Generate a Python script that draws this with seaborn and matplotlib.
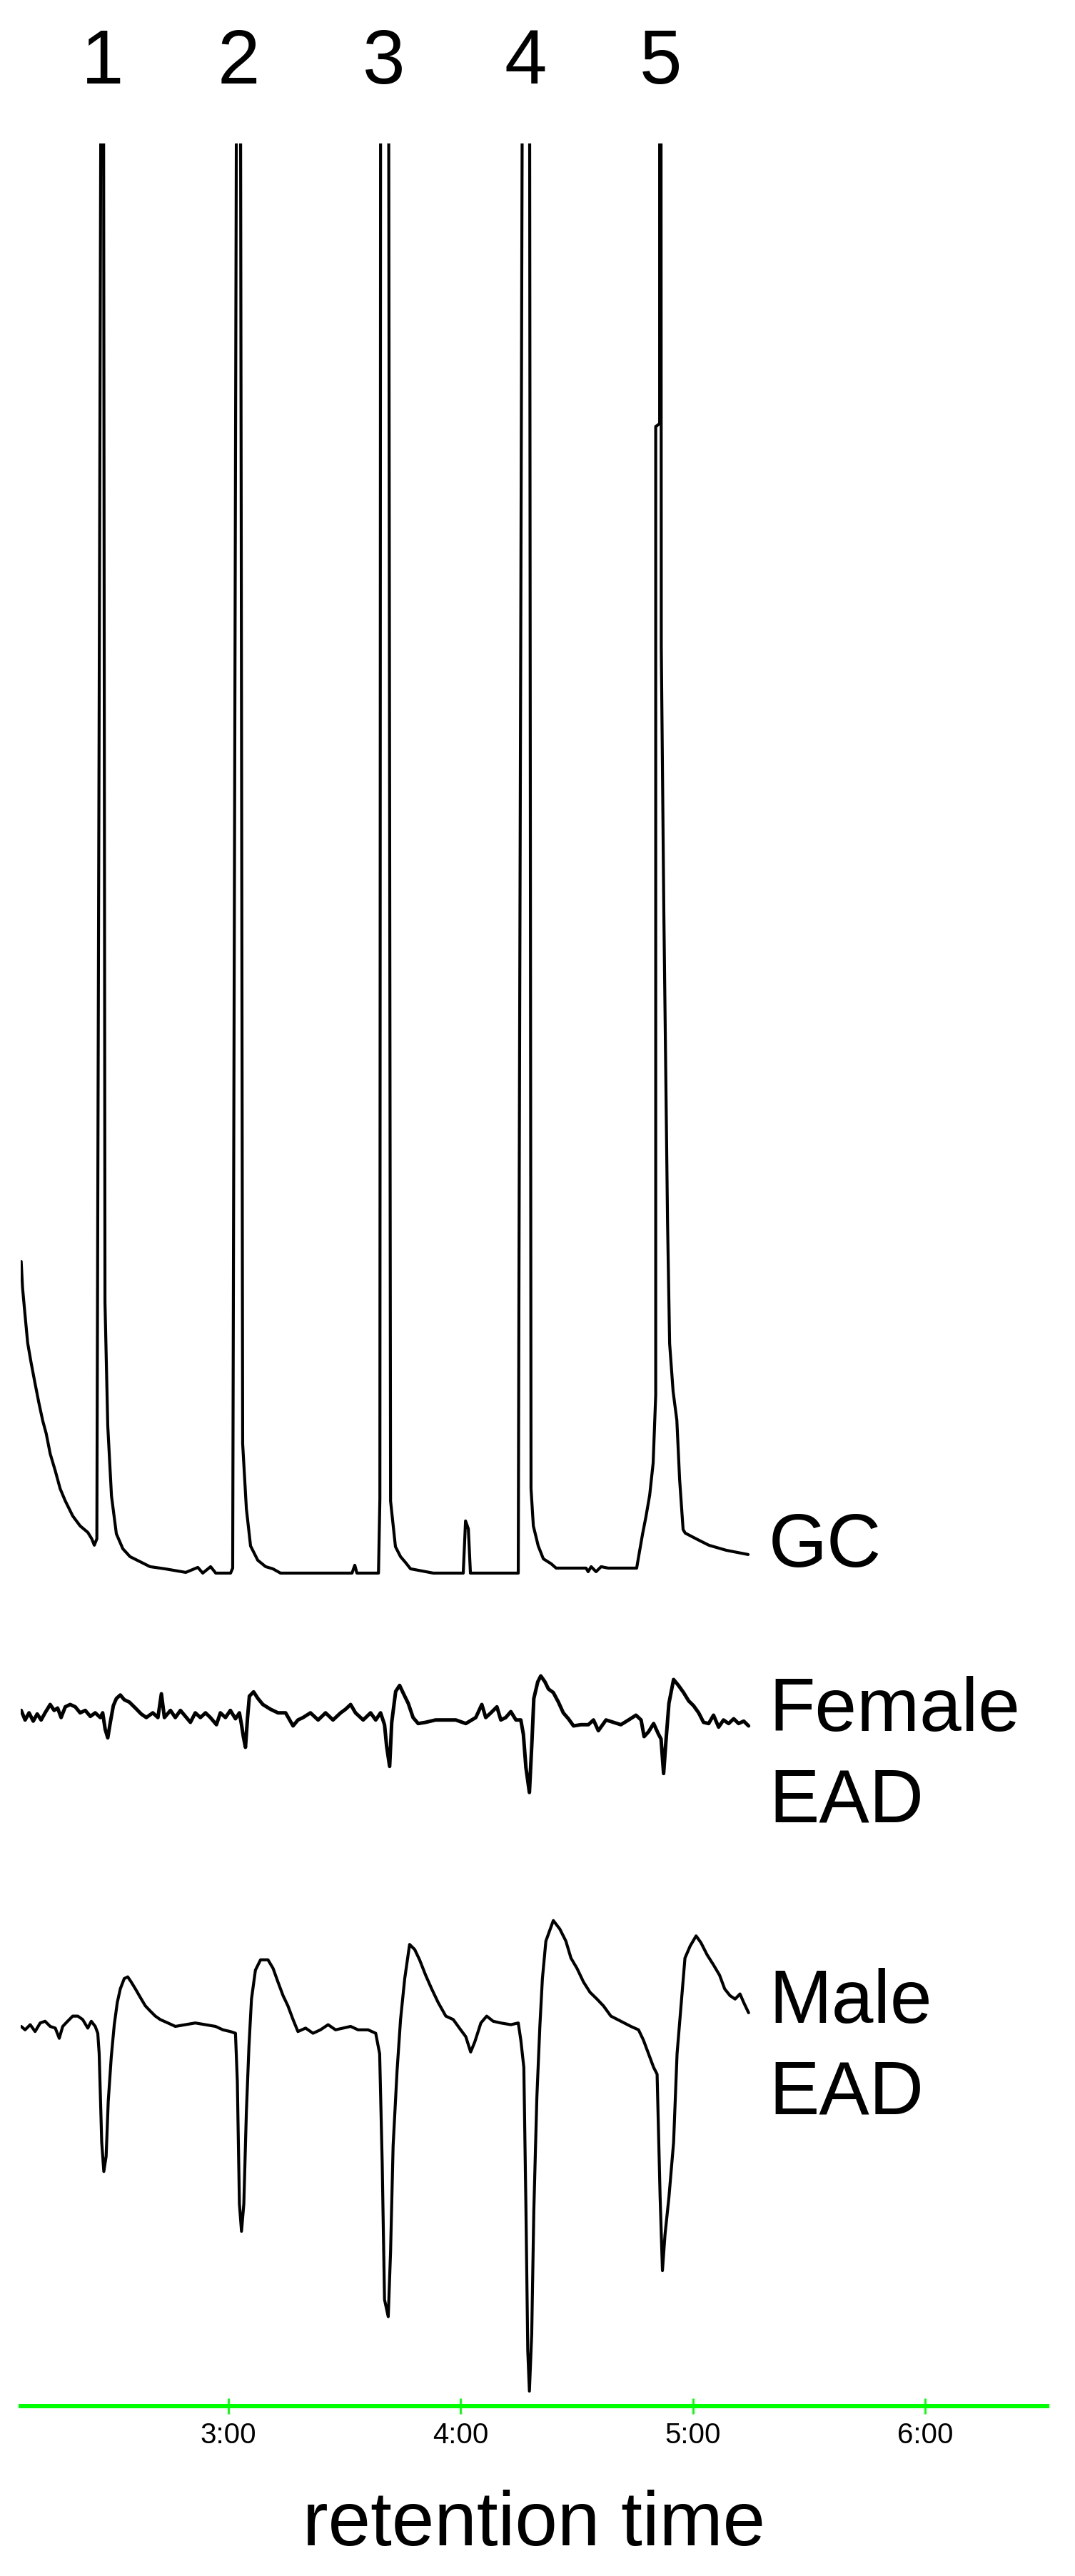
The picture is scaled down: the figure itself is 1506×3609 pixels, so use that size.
import numpy as np
import pandas as pd
import seaborn as sns
import matplotlib.pyplot as plt

# GC-EAD run: retention time (min), GC response in % of full scale
# (the five main peaks run off scale, their tops are clipped)
gc_time = [2.107, 2.113, 2.124, 2.135, 2.150, 2.167, 2.184, 2.200, 2.215, 2.232,
           2.254, 2.275, 2.297, 2.329, 2.361, 2.394, 2.411, 2.422, 2.433, 2.450,
           2.462, 2.468, 2.480, 2.496, 2.517, 2.545, 2.576, 2.619, 2.662, 2.726,
           2.816, 2.868, 2.889, 2.923, 2.945, 3.009, 3.018, 3.034, 3.052, 3.061,
           3.077, 3.095, 3.126, 3.160, 3.191, 3.224, 3.532, 3.544, 3.553, 3.646,
           3.652, 3.655, 3.690, 3.698, 3.719, 3.741, 3.762, 3.784, 3.882, 4.011,
           4.021, 4.033, 4.042, 4.248, 4.251, 4.265, 4.297, 4.303, 4.313, 4.334,
           4.356, 4.390, 4.411, 4.540, 4.549, 4.562, 4.583, 4.605, 4.635, 4.758,
           4.768, 4.783, 4.798, 4.814, 4.829, 4.840, 4.840, 4.857, 4.857, 4.863,
           4.864, 4.875, 4.891, 4.900, 4.915, 4.931, 4.943, 4.958, 4.967, 5.020,
           5.069, 5.143, 5.238]
gc_resp = [21.8, 19.95, 18.0, 16.1, 14.7, 13.25, 11.85, 10.65, 9.75, 8.35,
           7.15, 5.9, 5.05, 4.0, 3.3, 2.85, 2.4, 1.95, 2.4, 102,
           102, 18.95, 10.3, 5.4, 2.75, 1.7, 1.15, 0.8, 0.45, 0.3,
           0.05, 0.4, 0.0, 0.45, 0.0, 0.0, 0.35, 102, 102, 9.05,
           4.5, 1.9, 0.9, 0.45, 0.3, 0.0, 0.0, 0.55, 0.0, 0.0,
           5.2, 102, 102, 5.05, 1.85, 1.15, 0.75, 0.3, 0.0, 0.0,
           3.65, 3.1, 0.0, 0.0, 20.65, 102, 102, 5.9, 3.3, 1.9,
           1.0, 0.65, 0.35, 0.35, 0.1, 0.45, 0.1, 0.45, 0.35, 0.35,
           1.3, 2.7, 3.95, 5.45, 7.7, 12.45, 80.2, 80.4, 102, 102,
           64.8, 46.25, 24.55, 16.05, 12.7, 10.7, 6.55, 3.05, 2.8, 2.35,
           1.95, 1.6, 1.3]

# female antenna (EAD), relative response
female_time = [2.107, 2.124, 2.141, 2.159, 2.176, 2.193, 2.210, 2.232, 2.249, 2.264,
               2.279, 2.297, 2.318, 2.340, 2.361, 2.383, 2.405, 2.426, 2.448, 2.458,
               2.469, 2.480, 2.491, 2.504, 2.517, 2.534, 2.551, 2.573, 2.599, 2.624,
               2.646, 2.674, 2.696, 2.711, 2.724, 2.750, 2.771, 2.793, 2.819, 2.836,
               2.857, 2.879, 2.901, 2.922, 2.948, 2.965, 2.987, 3.008, 3.030, 3.047,
               3.056, 3.064, 3.073, 3.082, 3.090, 3.108, 3.127, 3.148, 3.181, 3.213,
               3.246, 3.278, 3.299, 3.321, 3.353, 3.386, 3.418, 3.450, 3.483, 3.504,
               3.526, 3.547, 3.580, 3.612, 3.634, 3.655, 3.672, 3.681, 3.694, 3.703,
               3.720, 3.737, 3.754, 3.774, 3.795, 3.817, 3.849, 3.892, 3.936, 3.979,
               4.022, 4.065, 4.091, 4.108, 4.130, 4.156, 4.173, 4.194, 4.216, 4.238,
               4.259, 4.270, 4.281, 4.296, 4.307, 4.315, 4.332, 4.345, 4.363, 4.378,
               4.399, 4.421, 4.442, 4.464, 4.486, 4.518, 4.550, 4.572, 4.593, 4.626,
               4.658, 4.690, 4.723, 4.755, 4.777, 4.790, 4.809, 4.831, 4.852, 4.863,
               4.874, 4.884, 4.897, 4.917, 4.938, 4.960, 4.982, 5.003, 5.025, 5.046,
               5.068, 5.089, 5.111, 5.132, 5.154, 5.176, 5.197, 5.219, 5.240]
female_resp = [0.067, -0.067, 0.033, -0.083, 0.017, -0.067, 0.033, 0.15, 0.067, 0.1,
               -0.033, 0.117, 0.15, 0.117, 0.033, 0.067, -0.017, 0.033, -0.033, 0.033,
               -0.2, -0.317, -0.1, 0.133, 0.233, 0.283, 0.217, 0.183, 0.1, 0.017,
               -0.033, 0.033, -0.033, 0.3, -0.033, 0.067, -0.033, 0.067, -0.033, -0.1,
               0.033, -0.033, 0.033, -0.033, -0.133, 0.033, -0.033, 0.067, -0.05, 0.033,
               -0.133, -0.3, -0.45, -0.033, 0.267, 0.327, 0.233, 0.15, 0.083, 0.033,
               0.033, -0.15, -0.067, -0.033, 0.033, -0.067, 0.033, -0.067, 0.033, 0.083,
               0.15, 0.033, -0.067, 0.033, -0.067, 0.033, -0.133, -0.433, -0.717, -0.1,
               0.333, 0.417, 0.3, 0.167, -0.033, -0.117, -0.1, -0.067, -0.067, -0.067,
               -0.117, -0.033, 0.15, -0.033, 0.033, 0.117, -0.067, -0.033, 0.05, -0.067,
               -0.067, -0.267, -0.733, -1.083, -0.367, 0.233, 0.467, 0.55, 0.467, 0.367,
               0.317, 0.183, 0.033, -0.05, -0.15, -0.133, -0.133, -0.067, -0.217, -0.067,
               -0.1, -0.133, -0.067, 0.0, -0.067, -0.3, -0.233, -0.117, -0.267, -0.333,
               -0.817, -0.367, 0.167, 0.5, 0.417, 0.317, 0.2, 0.133, 0.033, -0.1,
               -0.117, 0.0, -0.167, -0.067, -0.117, -0.05, -0.117, -0.083, -0.15]

# male antenna (EAD), relative response
male_time = [2.107, 2.124, 2.146, 2.167, 2.189, 2.210, 2.232, 2.254, 2.271, 2.286,
             2.307, 2.329, 2.351, 2.372, 2.394, 2.409, 2.426, 2.437, 2.443, 2.454,
             2.463, 2.473, 2.482, 2.495, 2.508, 2.521, 2.534, 2.551, 2.566, 2.581,
             2.599, 2.620, 2.642, 2.663, 2.685, 2.706, 2.739, 2.771, 2.814, 2.857,
             2.900, 2.944, 2.976, 3.008, 3.030, 3.038, 3.047, 3.056, 3.066, 3.077,
             3.088, 3.099, 3.116, 3.138, 3.170, 3.192, 3.213, 3.235, 3.256, 3.278,
             3.299, 3.332, 3.364, 3.396, 3.429, 3.461, 3.493, 3.526, 3.558, 3.601,
             3.634, 3.651, 3.662, 3.672, 3.688, 3.698, 3.709, 3.726, 3.741, 3.759,
             3.780, 3.802, 3.823, 3.849, 3.875, 3.903, 3.936, 3.968, 4.000, 4.022,
             4.043, 4.061, 4.087, 4.112, 4.140, 4.173, 4.216, 4.248, 4.259, 4.272,
             4.281, 4.289, 4.296, 4.306, 4.315, 4.328, 4.341, 4.352, 4.367, 4.399,
             4.427, 4.453, 4.475, 4.501, 4.529, 4.557, 4.587, 4.615, 4.647, 4.690,
             4.733, 4.766, 4.787, 4.809, 4.831, 4.846, 4.859, 4.869, 4.880, 4.897,
             4.917, 4.932, 4.949, 4.966, 4.988, 5.014, 5.035, 5.061, 5.089, 5.115,
             5.137, 5.160, 5.182, 5.203, 5.219, 5.240]
male_resp = [0.0, -0.048, 0.024, -0.072, 0.048, 0.072, 0.0, -0.024, -0.167, 0.0,
             0.072, 0.144, 0.144, 0.096, -0.024, 0.072, 0.0, -0.096, -0.383, -1.627,
             -2.033, -1.818, -1.053, -0.431, 0.024, 0.335, 0.526, 0.670, 0.694, 0.622,
             0.526, 0.407, 0.287, 0.215, 0.144, 0.096, 0.048, 0.0, 0.024, 0.048,
             0.024, 0.0, -0.048, -0.072, -0.096, -0.766, -2.488, -2.871, -2.488, -1.196,
             -0.287, 0.383, 0.789, 0.933, 0.933, 0.813, 0.622, 0.431, 0.287, 0.096,
             -0.072, -0.024, -0.096, -0.048, 0.024, -0.048, -0.024, 0.0, -0.048, -0.048,
             -0.096, -0.383, -1.914, -3.828, -4.067, -3.158, -1.675, -0.622, 0.096, 0.670,
             1.148, 1.077, 0.933, 0.718, 0.526, 0.335, 0.144, 0.096, -0.048, -0.144,
             -0.359, -0.215, 0.048, 0.144, 0.072, 0.048, 0.024, 0.048, -0.191, -0.574,
             -2.536, -4.545, -5.110, -4.306, -2.584, -1.005, 0.0, 0.670, 1.196, 1.483,
             1.364, 1.196, 0.957, 0.813, 0.622, 0.478, 0.383, 0.287, 0.144, 0.072,
             0.0, -0.048, -0.191, -0.383, -0.574, -0.670, -2.392, -3.421, -2.919, -2.392,
             -1.627, -0.383, 0.287, 0.957, 1.124, 1.268, 1.172, 1.005, 0.861, 0.718,
             0.526, 0.431, 0.383, 0.455, 0.335, 0.191]

peak_labels = ["1", "2", "3", "4", "5"]
peak_time = [2.456, 3.044, 3.670, 4.280, 4.860]

trace_labels = ["GC", "Female\nEAD", "Male\nEAD"]

tick_minutes = [3, 4, 5, 6]
tick_labels = ["3:00", "4:00", "5:00", "6:00"]

sns.set_style("white")
plt.rcParams["font.family"] = ["Liberation Sans", "DejaVu Sans"]
plt.rcParams["text.color"] = "black"

W, H = 1506, 3609
fig = plt.figure(figsize=(W / 100, H / 100), dpi=100)


def rect(top, bottom, left=29, right=1467):
    # pixel box -> figure fraction
    return [left / W, 1 - bottom / H, (right - left) / W, (bottom - top) / H]


ax_gc = fig.add_axes(rect(201, 2250))
ax_f = fig.add_axes(rect(2300, 2550))
ax_m = fig.add_axes(rect(2600, 3371))

xlim = (2.105, 6.526)
green = "#00ff00"

traces = [
    (ax_gc, pd.DataFrame({"t": gc_time, "r": gc_resp}), (-2.3, 100), 3.0),
    (ax_f, pd.DataFrame({"t": female_time, "r": female_resp}), (-1.47, 1.03), 3.6),
    (ax_m, pd.DataFrame({"t": male_time, "r": male_resp}), (-5.32, 2.39), 3.0),
]
for ax, df, ylim, lw in traces:
    sns.lineplot(data=df, x="t", y="r", ax=ax, sort=False, estimator=None,
                 errorbar=None, color="black", linewidth=lw)
    ax.set_xlim(xlim)
    ax.set_ylim(ylim)
    ax.set_xlabel("")
    ax.set_ylabel("")
    ax.set_yticks([])
    for s in ax.spines.values():
        s.set_visible(False)
    ax.patch.set_alpha(0)

ax_gc.set_xticks([])
ax_f.set_xticks([])

# peak numbers above the GC trace
for lab, t in zip(peak_labels, peak_time):
    ax_gc.text(t, 104.2, lab, ha="center", va="baseline", fontsize=77, color="black")

# trace names on the right (va=baseline sits on the last line)
ax_gc.text(5.327, 0.45, trace_labels[0], fontsize=76, va="baseline", ha="left",
           color="black")
ax_f.text(5.327, -1.49, trace_labels[1], fontsize=76, va="baseline", ha="left",
          linespacing=1.36, color="black")
ax_m.text(5.327, -1.22, trace_labels[2], fontsize=76, va="baseline", ha="left",
          linespacing=1.36, color="black")

# green time axis
ax_m.spines["bottom"].set_visible(True)
ax_m.spines["bottom"].set_color(green)
ax_m.spines["bottom"].set_linewidth(4.3)
ax_m.set_xticks(tick_minutes)
ax_m.set_xticklabels(tick_labels)
ax_m.tick_params(axis="x", bottom=True, direction="inout", length=16.5, width=2,
                 color=green, labelsize=29, pad=7.5, labelcolor="black")
ax_m.set_xlabel("retention time", fontsize=77, labelpad=41, color="black")

fig.savefig("out.png", dpi=100)
